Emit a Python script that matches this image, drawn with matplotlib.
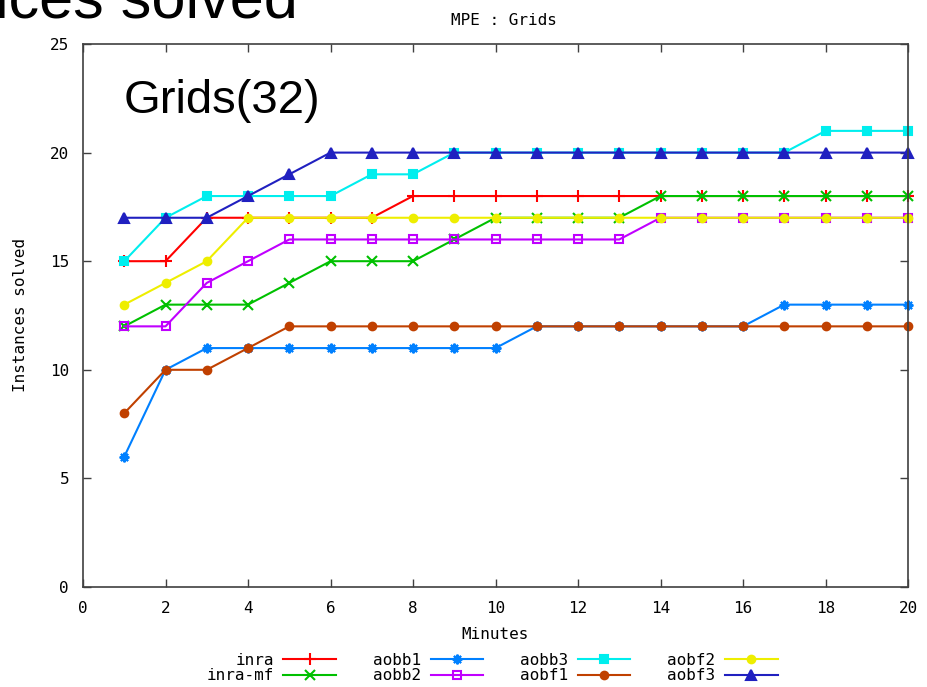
import matplotlib
matplotlib.use("Agg")
import matplotlib.pyplot as plt

minutes = list(range(1, 21))

series_names = ["inra", "inra-mf", "aobb1", "aobb2", "aobb3", "aobf1", "aobf2", "aobf3"]

inra    = [15, 15, 17, 17, 17, 17, 17, 18, 18, 18, 18, 18, 18, 18, 18, 18, 18, 18, 18, 18]
inra_mf = [12, 13, 13, 13, 14, 15, 15, 15, 16, 17, 17, 17, 17, 18, 18, 18, 18, 18, 18, 18]
aobb1   = [6, 10, 11, 11, 11, 11, 11, 11, 11, 11, 12, 12, 12, 12, 12, 12, 13, 13, 13, 13]
aobb2   = [12, 12, 14, 15, 16, 16, 16, 16, 16, 16, 16, 16, 16, 17, 17, 17, 17, 17, 17, 17]
aobb3   = [15, 17, 18, 18, 18, 18, 19, 19, 20, 20, 20, 20, 20, 20, 20, 20, 20, 21, 21, 21]
aobf1   = [8, 10, 10, 11, 12, 12, 12, 12, 12, 12, 12, 12, 12, 12, 12, 12, 12, 12, 12, 12]
aobf2   = [13, 14, 15, 17, 17, 17, 17, 17, 17, 17, 17, 17, 17, 17, 17, 17, 17, 17, 17, 17]
aobf3   = [17, 17, 17, 18, 19, 20, 20, 20, 20, 20, 20, 20, 20, 20, 20, 20, 20, 20, 20, 20]

values = [inra, inra_mf, aobb1, aobb2, aobb3, aobf1, aobf2, aobf3]

colors = ["#ff0000", "#00c000", "#0080ff", "#c000ff", "#00eeee", "#c04000", "#eeee00", "#2020c0"]
markers = ["+", "x", (8, 2, 0), "s", "s", "o", "o", "^"]
fills = [True, True, True, False, True, True, True, True]
msizes = [8, 6.5, 7, 5.5, 6, 5.5, 5.5, 7]

mono = "DejaVu Sans Mono"
fs = 11.5

fig = plt.figure(figsize=(9.27, 6.87), dpi=100)
ax = fig.add_axes([83 / 927, 1 - 587 / 687, (908 - 83) / 927, (587 - 44) / 687])

for name, ys, c, m, f, ms in zip(series_names, values, colors, markers, fills, msizes):
    kw = dict(color=c, lw=1.5, marker=m, markersize=ms, label=name, clip_on=False)
    if f:
        kw.update(markerfacecolor=c, markeredgecolor=c, markeredgewidth=1.5)
    else:
        kw.update(markerfacecolor="none", markeredgecolor=c, markeredgewidth=1.5)
    ax.plot(minutes, ys, **kw)

ax.set_xlim(0, 20)
ax.set_ylim(0, 25)
ax.set_xticks(range(0, 21, 2))
ax.set_yticks(range(0, 26, 5))
ax.tick_params(direction="in", length=6, width=1, color="#404040",
               top=True, right=True, labelsize=fs, pad=10)
for lbl in ax.get_xticklabels() + ax.get_yticklabels():
    lbl.set_family(mono)
for s in ax.spines.values():
    s.set_color("#404040")
    s.set_linewidth(1.2)

ax.set_xlabel("Minutes", family=mono, fontsize=fs, labelpad=8)
ax.set_ylabel("Instances solved", family=mono, fontsize=fs, labelpad=16)
ax.set_title("MPE : Grids", family=mono, fontsize=fs, pad=14, x=0.51)

fig.text(124 / 927, 1 - 113 / 687, "Grids(32)", family="Liberation Sans",
         fontsize=34, ha="left", va="baseline")
fig.text(298 / 927, 1 - 17 / 687, "Instances solved", family="Liberation Sans",
         fontsize=44, ha="right", va="baseline")

leg = fig.legend(loc="center", bbox_to_anchor=(492 / 927, 1 - 668 / 687), ncol=4,
                 frameon=False, markerfirst=False, handlelength=3.3,
                 columnspacing=2.3, labelspacing=0.05, handletextpad=0.6,
                 prop={"family": mono, "size": fs})

fig.savefig("out.png", dpi=100)
